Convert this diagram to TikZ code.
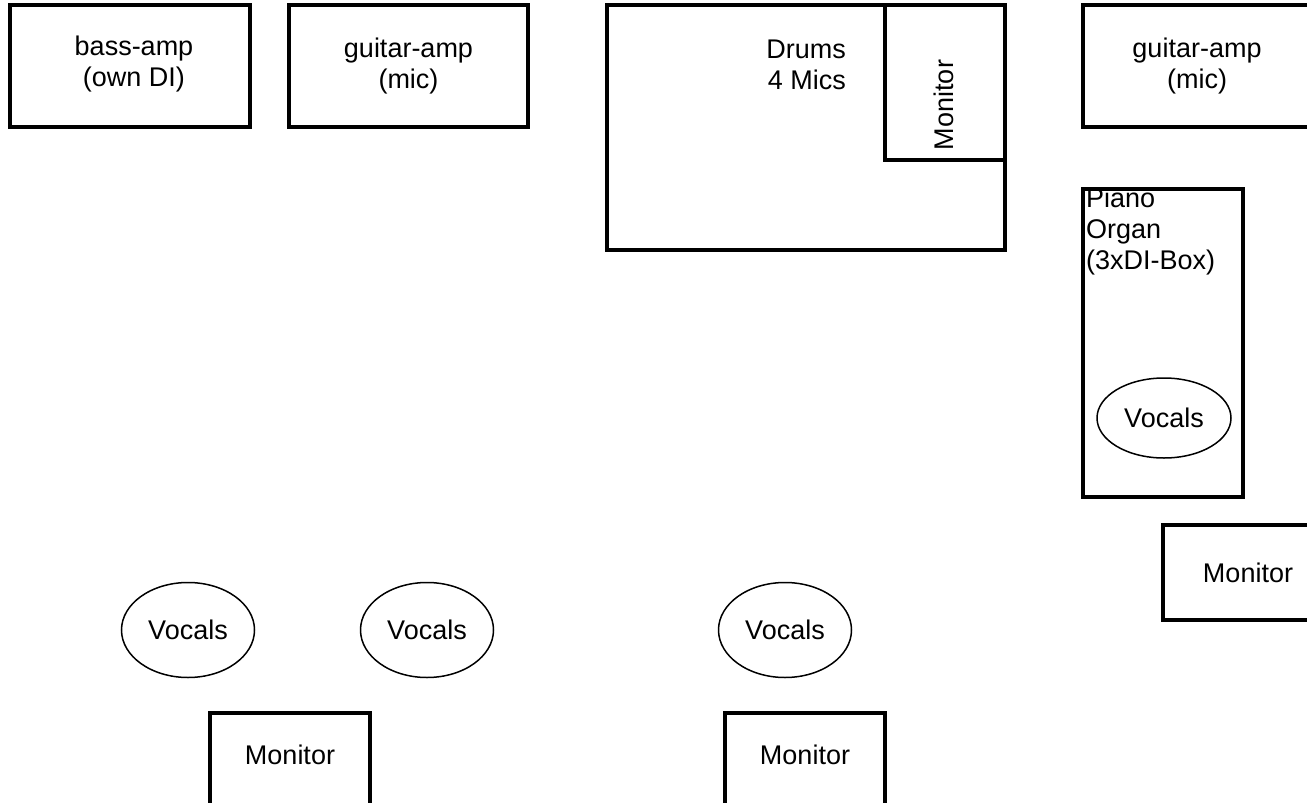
\documentclass[tikz,border=0pt]{standalone}
\usepackage{fontspec}
\setmainfont{Liberation Sans}
\usetikzlibrary{shapes.geometric}
\begin{document}
\begin{tikzpicture}[x=1pt,y=-1pt,
  font=\fontsize{27}{31}\selectfont,
  box/.style={draw,line width=3.3pt,rectangle,inner sep=0pt,align=center},
  voc/.style={draw,line width=1.5pt,ellipse,inner sep=0pt,minimum width=133pt,minimum height=95pt},
  txt/.style={inner sep=0pt,align=center}]
\useasboundingbox (0,0) rectangle (1307,803);
% top row
\node[box,minimum width=240pt,minimum height=122pt] (bassamp) at (130,66) {};
\node[txt] (basstxt) at (134,64) {bass-amp\\(own DI)};
\node[box,minimum width=239pt,minimum height=122pt] (gampL) at (408.5,66) {guitar-amp\\(mic)};
\node[box,minimum width=398pt,minimum height=245pt] (drums) at (806,127.5) {};
\node[txt,align=right,anchor=east] (drumstxt) at (846,65) {Drums\\4 Mics};
\node[box,minimum width=120pt,minimum height=155pt] (drummon) at (945,82.5) {};
\node[txt,rotate=90] (drummontxt) at (944,105) {Monitor};
\node[box,minimum width=228pt,minimum height=122pt] (gampR) at (1197,66) {guitar-amp\\(mic)};
% piano
\node[box,minimum width=160pt,minimum height=308pt] (piano) at (1163,343) {};
\node[txt,align=left,anchor=north west] (pianotxt) at (1086,188) {Piano\\Organ\\(3xDI-Box)};
\node[voc,minimum width=134pt,minimum height=80pt] (vocP) at (1164,418) {Vocals};
\node[box,minimum width=170pt,minimum height=95pt] (monR) at (1248,572.5) {Monitor};
% bottom
\node[voc] (voc1) at (188,630) {Vocals};
\node[voc] (voc2) at (427,630) {Vocals};
\node[voc] (voc3) at (785,630) {Vocals};
\node[box,minimum width=160pt,minimum height=120pt] (monL) at (290,773) {};
\node[txt] (monLtxt) at (290,755) {Monitor};
\node[box,minimum width=160pt,minimum height=120pt] (monM) at (805,773) {};
\node[txt] (monMtxt) at (805,755) {Monitor};
\end{tikzpicture}
\end{document}
